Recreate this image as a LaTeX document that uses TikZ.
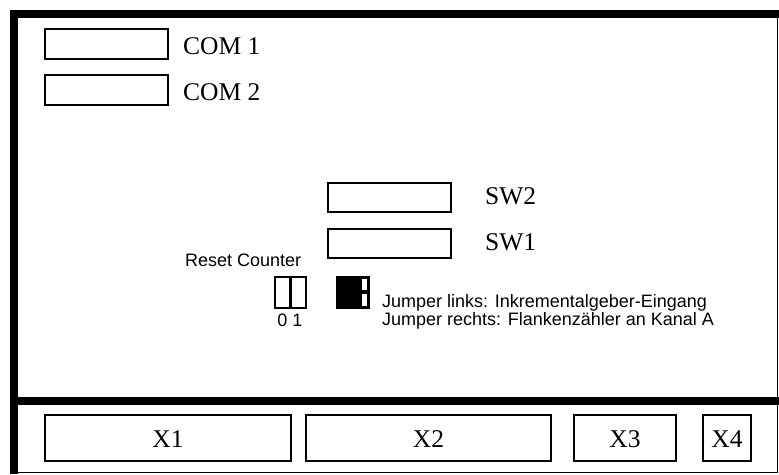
\documentclass[tikz,border=0pt]{standalone}
\usepackage{fontspec}
\setmainfont{Liberation Serif}
\setsansfont{Liberation Sans}
\begin{document}
\begin{tikzpicture}[x=1pt,y=-1pt,
  slot/.style={draw,line width=2.5pt},
  serlab/.style={inner sep=0pt,font=\fontsize{25.5}{28}\selectfont},
  sanslab/.style={inner sep=0pt,font=\sffamily\fontsize{18}{18}\selectfont}]
\useasboundingbox (0,0) rectangle (779,474);
% frame
\fill (10,10) rectangle (779,18);
\fill (10,10) rectangle (18,474);
\fill (18,397) rectangle (779,405);
\draw[line width=1.5pt] (10,472.5) -- (777.5,472.5) -- (777.5,18);
% COM
\draw[slot] (45,29) rectangle (168,59);
\draw[slot] (45,75) rectangle (168,105);
\node[serlab,anchor=base west] (com1) at (183,54) {COM 1};
\node[serlab,anchor=base west] (com2) at (183,100) {COM 2};
% SW
\draw[slot] (328,183) rectangle (451,212);
\draw[slot] (328,229) rectangle (451,258);
\node[serlab,anchor=base west] (sw2) at (485,204) {SW2};
\node[serlab,anchor=base west] (sw1) at (485,250) {SW1};
% reset counter
\node[sanslab,anchor=base west] (rc) at (185,266) {Reset Counter};
\draw[slot] (275,277) rectangle (306,308);
\draw[line width=2.5pt] (290.5,277) -- (290.5,308);
\node[sanslab,anchor=base] (zo) at (290,326) {0 1};
% jumper
\fill (336,276) rectangle (370,309);
\fill[white] (362,279) rectangle (367,290);
\fill[white] (362,294) rectangle (367,306);
\node[sanslab,anchor=base west] (j1) at (382,307) {Jumper links: Inkrementalgeber-Eingang};
\node[sanslab,anchor=base west] (j2) at (382,325) {Jumper rechts: Flankenzähler an Kanal A};
% X
\draw[slot] (45,415) rectangle (291,461);
\draw[slot] (306,415) rectangle (551,461);
\draw[slot] (574,415) rectangle (676,461);
\draw[slot] (703,415) rectangle (751,461);
\node[serlab] (x1) at (168,439) {X1};
\node[serlab] (x2) at (428.5,439) {X2};
\node[serlab] (x3) at (625,439) {X3};
\node[serlab] (x4) at (727,439) {X4};
\end{tikzpicture}
\end{document}
